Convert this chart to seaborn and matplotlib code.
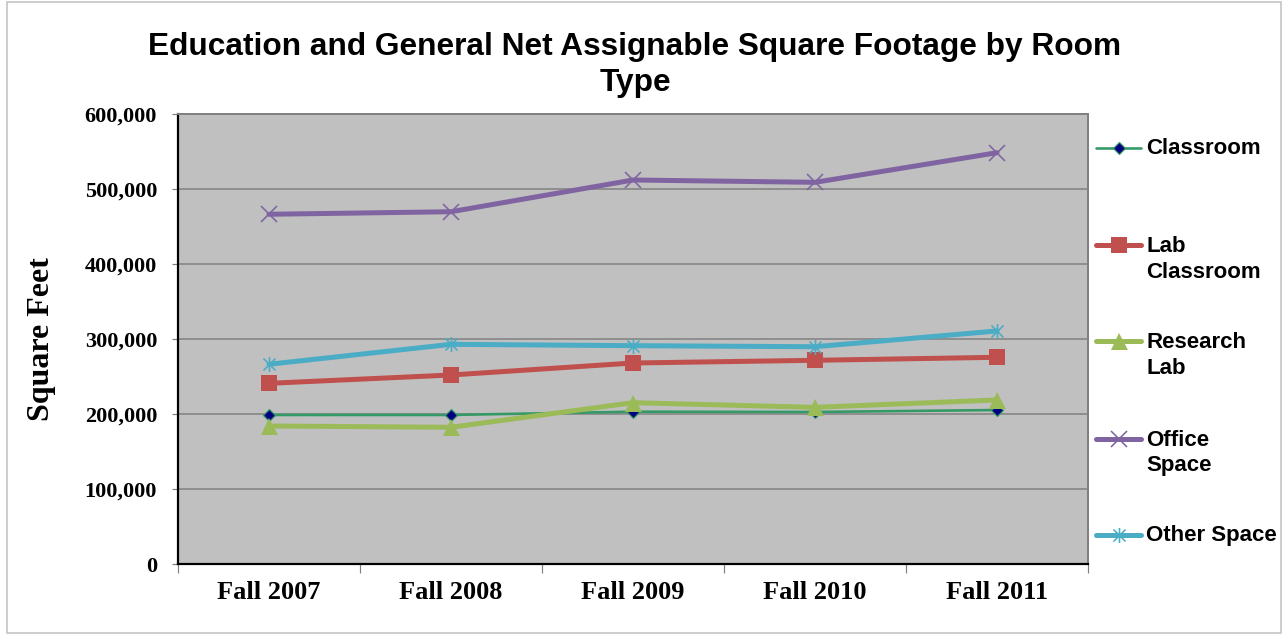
import matplotlib
matplotlib.use("Agg")
import matplotlib.pyplot as plt
from matplotlib.lines import Line2D
from matplotlib.patches import Rectangle
from matplotlib.path import Path
from matplotlib.ticker import FuncFormatter, FixedLocator
import seaborn as sns
import pandas as pd

# ---- data -------------------------------------------------------------
terms = ["Fall 2007", "Fall 2008", "Fall 2009", "Fall 2010", "Fall 2011"]
classroom = [198700, 198700, 203100, 202700, 205300]
lab_classroom = [240900, 252000, 268000, 271600, 275600]
research_lab = [184000, 182300, 215100, 208900, 218700]
office_space = [466300, 469700, 512000, 508900, 548400]
other_space = [266300, 292900, 291100, 289700, 310700]
series_names = ["Classroom", "Lab\nClassroom", "Research\nLab", "Office\nSpace", "Other Space"]
y_ticks = [0, 100000, 200000, 300000, 400000, 500000, 600000]

W, H, DPI = 1287, 635, 100
px = 72.0 / DPI  # points per pixel

# asterisk marker: an X crossed by a vertical bar
asterisk = Path(
    [(-1, -1), (1, 1), (-1, 1), (1, -1), (0, -1.25), (0, 1.25)],
    [Path.MOVETO, Path.LINETO, Path.MOVETO, Path.LINETO, Path.MOVETO, Path.LINETO],
)

styles = [
    dict(color="#339966", lw=2.6 * px, marker="D", ms=8 * px, mfc="#000080", mec="#339966", mew=1.2 * px),
    dict(color="#C0504D", lw=5 * px, marker="s", ms=16 * px, mfc="#C0504D", mec="#C0504D", mew=0),
    dict(color="#9BBB59", lw=5 * px, marker="^", ms=17 * px, mfc="#9BBB59", mec="#9BBB59", mew=0),
    dict(color="#8064A2", lw=5 * px, marker="x", ms=16 * px, mfc="#8064A2", mec="#8064A2", mew=1.6 * px),
    dict(color="#4BACC6", lw=5 * px, marker=asterisk, ms=15 * px, mfc="#4BACC6", mec="#4BACC6", mew=1.6 * px),
]

values = [classroom, lab_classroom, research_lab, office_space, other_space]
frames = []
for name, vals in zip(series_names, values):
    frames.append(pd.DataFrame({"term": terms, "sqft": vals, "room": name}))
df = pd.concat(frames, ignore_index=True)

sns.set_theme(style="white")
plt.rcParams["font.family"] = ["Liberation Sans", "DejaVu Sans"]
plt.rcParams["text.color"] = "black"
plt.rcParams["axes.labelcolor"] = "black"
plt.rcParams["xtick.labelcolor"] = "black"
plt.rcParams["ytick.labelcolor"] = "black"

fig = plt.figure(figsize=(W / DPI, H / DPI), dpi=DPI)
fig.patch.set_facecolor("white")

left, right, top, bottom = 178, 1088, 114, 564
ax = fig.add_axes([left / W, 1 - bottom / H, (right - left) / W, (bottom - top) / H])
ax.set_facecolor("#C0C0C0")

for name, st in zip(series_names, styles):
    sub = df[df["room"] == name]
    sns.lineplot(
        data=sub, x="term", y="sqft", ax=ax, sort=False,
        color=st["color"], linewidth=st["lw"], marker=st["marker"],
        markersize=st["ms"], markerfacecolor=st["mfc"], markeredgecolor=st["mec"],
        markeredgewidth=st["mew"], legend=False,
    )

ax.set_xlim(-0.5, len(terms) - 0.5)
ax.set_ylim(0, 600000)

# gridlines
ax.yaxis.set_major_locator(FixedLocator(y_ticks))
ax.yaxis.grid(True, color="#808080", linewidth=1.5 * px)
ax.xaxis.grid(False)
ax.set_axisbelow(True)

serif = ["Liberation Serif", "DejaVu Serif"]
ax.yaxis.set_major_formatter(FuncFormatter(lambda v, p: f"{int(v):,}"))
ax.tick_params(axis="y", which="major", direction="out", length=6 * px, width=1.2 * px,
               color="#808080", labelcolor="black", pad=15 * px, left=True)
for lbl in ax.get_yticklabels():
    lbl.set_fontfamily(serif)
    lbl.set_fontweight("bold")
    lbl.set_fontsize(16)

ax.set_xticks(range(len(terms)))
ax.set_xticklabels(terms, fontfamily=serif, fontweight="bold", fontsize=19, color="black")
ax.set_xticks([i - 0.5 for i in range(len(terms) + 1)], minor=True)
ax.tick_params(axis="x", which="major", length=0, pad=17 * px, labelcolor="black")
ax.tick_params(axis="x", which="minor", direction="out", length=9 * px, width=1.2 * px,
               color="#808080", bottom=True)

ax.set_xlabel("")
ax.set_ylabel("Square Feet", fontfamily=serif, fontweight="bold", fontsize=23, color="black")
ax.yaxis.set_label_coords((56 - left) / (right - left), 0.5)

for side, col, w in [("left", "black", 2.2), ("bottom", "black", 2.2), ("top", "#808080", 2.0), ("right", "#808080", 2.0)]:
    ax.spines[side].set_visible(True)
    ax.spines[side].set_color(col)
    ax.spines[side].set_linewidth(w * px)

# title
fig.text(635 / W, 1 - 65 / H, "Education and General Net Assignable Square Footage by Room\nType",
         ha="center", va="center", fontsize=22.8, fontweight="bold", linespacing=1.28, color="black")

# legend: handle aligned with the first line of each label
legend_y = [148, 245, 341, 439, 535]
line_gap = 26
for name, st, yy in zip(series_names, styles, legend_y):
    yf = 1 - yy / H
    fig.add_artist(Line2D([1096 / W, 1141 / W], [yf, yf], transform=fig.transFigure,
                          color=st["color"], linewidth=st["lw"]))
    fig.add_artist(Line2D([1118.5 / W], [yf], transform=fig.transFigure, linestyle="none",
                          marker=st["marker"], markersize=st["ms"], markerfacecolor=st["mfc"],
                          markeredgecolor=st["mec"], markeredgewidth=st["mew"]))
    for k, part in enumerate(name.split("\n")):
        fig.text(1146 / W, 1 - (yy + 1 + k * line_gap) / H, part, ha="left", va="center",
                 fontsize=16, fontweight="bold", color="black")

# chart frame
fig.add_artist(Rectangle((7 / W, 2 / H), (1281 - 7) / W, (634 - 3) / H, transform=fig.transFigure,
                         fill=False, edgecolor="#BFBFBF", linewidth=1.5 * px))

fig.savefig("out.png", dpi=DPI, facecolor="white")
